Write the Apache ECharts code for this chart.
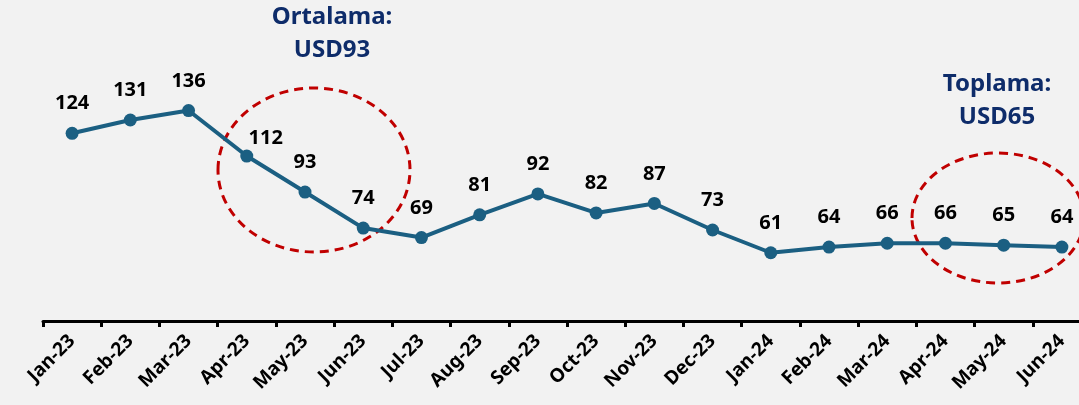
<!DOCTYPE html>
<html lang="tr">
<head>
    <meta charset="UTF-8">
    <title>Aylık fiyat</title>
    <script src="https://cdn.jsdelivr.net/npm/echarts@6/dist/echarts.min.js"></script>
    <style>
        body { margin: 0; background-color: #f2f2f2; }
        #chart { width: 1079px; height: 405px; }
    </style>
</head>
<body>
<div id="chart"></div>
<script>
    const months = ['Jan-23', 'Feb-23', 'Mar-23', 'Apr-23', 'May-23', 'Jun-23', 'Jul-23', 'Aug-23', 'Sep-23',
        'Oct-23', 'Nov-23', 'Dec-23', 'Jan-24', 'Feb-24', 'Mar-24', 'Apr-24', 'May-24', 'Jun-24'];
    const prices = [124, 131, 136, 112, 93, 74, 69, 81, 92, 82, 87, 73, 61, 64, 66, 66, 65, 64];
    const notes = [['Ortalama:', 'USD93'], ['Toplama:', 'USD65']];

    const lineColor = '#1b5f82';
    const noteColor = '#0e2c6a';
    const circleColor = '#c00000';

    const chart = echarts.init(document.getElementById('chart'));
    chart.setOption({
        backgroundColor: '#f2f2f2',
        animation: false,
        // the last month runs past the right edge, as in the original
        grid: { left: 43, width: 1048, top: 84, bottom: 84, outerBoundsMode: 'none', containLabel: false },
        xAxis: {
            type: 'category',
            data: months,
            boundaryGap: true,
            axisLine: { lineStyle: { color: '#000', width: 3 } },
            axisTick: { show: true, length: 6, lineStyle: { color: '#000', width: 3 } },
            axisLabel: {
                rotate: 45,
                color: '#000',
                fontFamily: 'Noto Sans',
                fontWeight: 'bold',
                fontSize: 19,
                margin: 17,
                interval: 0,
                hideOverlap: false
            }
        },
        yAxis: {
            type: 'value',
            min: 25,
            max: 150,
            show: false
        },
        series: [{
            type: 'line',
            data: prices.map((v, i) => i === 3 ? { value: v, label: { offset: [19, 12] } } : v),
            symbol: 'circle',
            symbolSize: 13,
            lineStyle: { color: lineColor, width: 4 },
            itemStyle: { color: lineColor },
            label: {
                show: true,
                position: 'top',
                distance: 13,
                color: '#000',
                fontFamily: 'Noto Sans',
                fontWeight: 'bold',
                fontSize: 20
            }
        }],
        graphic: [
            {
                type: 'ellipse',
                shape: { cx: 314, cy: 170, rx: 96, ry: 82 },
                style: { fill: 'none', stroke: circleColor, lineWidth: 3, lineDash: [9, 6] }
            },
            {
                type: 'ellipse',
                shape: { cx: 998, cy: 218, rx: 86, ry: 65 },
                style: { fill: 'none', stroke: circleColor, lineWidth: 3, lineDash: [9, 6] }
            },
            {
                type: 'text',
                x: 332, y: 1,
                style: {
                    text: notes[0].join('\n'),
                    fill: noteColor,
                    font: 'bold 24px "Noto Sans"',
                    lineHeight: 33,
                    align: 'center'
                }
            },
            {
                type: 'text',
                x: 997, y: 68,
                style: {
                    text: notes[1].join('\n'),
                    fill: noteColor,
                    font: 'bold 24px "Noto Sans"',
                    lineHeight: 33,
                    align: 'center'
                }
            }
        ]
    });
</script>
</body>
</html>
